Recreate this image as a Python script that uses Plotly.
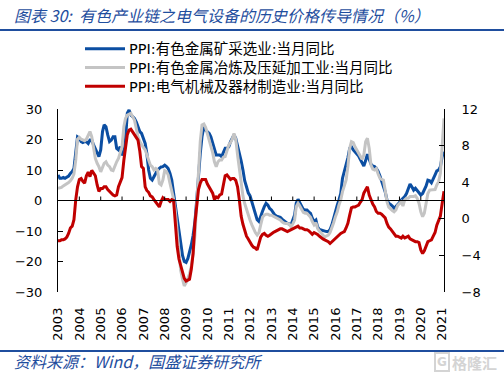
import pandas as pd
import plotly.graph_objects as go

# ---------------- data ----------------
months = pd.date_range("2003-01-01", periods=218, freq="MS")
years = list(range(2003, 2022))
year_labels = [str(y) for y in years]

name_mining = "PPI:有色金属矿采选业:当月同比"
name_smelting = "PPI:有色金属冶炼及压延加工业:当月同比"
name_electric = "PPI:电气机械及器材制造业:当月同比"

mining = [
    8.4, 7.3, 7.3, 7.6, 7.3, 7.6, 8.0, 8.9, 9.5, 10.5,
    15.5, 20.9, 20.5, 19.3, 19.0, 19.3, 19.3, 18.7, 19.8, 19.8,
    18.2, 17.1, 15.5, 14.4, 16.6, 22.6, 24.8, 24.2, 21.5, 19.3,
    19.8, 20.9, 20.9, 17.1, 16.6, 17.6, 14.9, 15.5, 19.8, 28.6,
    29.7, 28.0, 27.5, 26.9, 25.8, 24.2, 22.6, 22.0, 20.4, 18.7,
    15.5, 10.0, 7.3, 6.7, 7.8, 9.0, 10.0, 10.5, 11.0, 11.1,
    11.6, 11.1, 10.5, 8.9, 6.7, 2.5, -1.5, -6.5, -11.5, -15.5,
    -18.0, -20.0, -20.3, -19.0, -17.0, -14.5, -11.5, -7.0, 0.0, 9.0,
    15.5, 21.0, 24.2, 23.1, 22.6, 22.0, 20.9, 18.7, 16.6, 14.9,
    14.9, 14.9, 14.4, 15.5, 17.1, 17.1, 17.6, 19.3, 20.4, 21.5,
    20.4, 18.2, 16.0, 13.0, 10.0, 6.5, 4.5, 2.5, 1.5, -0.5,
    -2.0, -4.5, -6.3, -6.9, -5.0, -3.5, -2.0, -0.9, -1.5, -2.6,
    -3.1, -4.2, -4.8, -5.1, -5.3, -5.5, -6.1, -6.6, -7.2, -7.5,
    -7.7, -8.0, -6.4, -4.8, -0.9, 0.4, -0.7, -2.0, -2.9, -3.1,
    -3.1, -3.7, -4.2, -5.8, -6.9, -6.4, -8.6, -9.5, -9.7, -10.0,
    -10.2, -10.2, -10.2, -9.5, -8.0, -5.8, -3.1, -1.5, 0.2, 2.3,
    7.3, 9.5, 11.5, 14.0, 17.1, 17.6, 16.6, 16.0, 15.2, 14.6,
    13.5, 12.2, 11.3, 13.1, 15.2, 13.5, 11.9, 11.3, 11.1, 10.5,
    9.5, 8.0, 6.5, 5.1, 2.9, 0.2, -0.9, -1.3, -1.8, -2.6,
    -2.0, -1.5, -0.7, 0.2, 0.7, 1.3, 2.3, 4.0, 5.4, 4.5,
    3.4, 4.0, 3.2, 2.3, 1.8, 2.3, 3.4, 4.8, 6.7, 6.5,
    5.8, 6.9, 8.4, 9.7, 10.0, 11.1, 14.4, 16.0,
]

smelting = [
    4.0, 4.2, 4.3, 4.8, 5.1, 5.4, 5.9, 6.5, 7.3, 8.7,
    13.3, 20.1, 20.7, 20.1, 19.8, 19.6, 20.1, 21.5, 22.6, 20.9,
    17.1, 13.8, 12.2, 11.1, 9.4, 11.1, 12.2, 12.7, 11.6, 11.1,
    10.0, 9.8, 11.6, 12.7, 13.8, 15.5, 17.6, 24.2, 26.9, 28.0,
    28.4, 28.6, 27.5, 26.4, 23.7, 20.9, 19.3, 18.2, 17.4, 16.6,
    14.9, 13.3, 11.6, 11.1, 10.0, 10.5, 10.0, 5.6, 5.1, 6.7,
    9.8, 9.5, 8.4, 5.6, 3.2, 0.5, -3.5, -11.0, -17.5, -23.0,
    -25.8, -28.0, -27.0, -25.5, -24.0, -21.5, -17.5, -11.5, -1.5, 11.0,
    19.5, 24.8, 25.1, 24.0, 22.0, 20.1, 18.1, 15.7, 12.7, 11.1,
    12.7, 13.3, 13.3, 14.2, 14.4, 16.6, 18.2, 19.0, 20.1, 22.0,
    20.1, 15.0, 10.0, 5.0, 1.5, -1.0, -3.0, -5.0, -6.5, -8.0,
    -9.5, -10.5, -11.3, -10.5, -8.0, -5.5, -4.8, -4.5, -4.5, -4.8,
    -4.8, -5.1, -5.3, -5.6, -5.9, -6.4, -7.0, -7.4, -7.5, -7.5,
    -7.8, -8.6, -7.7, -6.4, -2.0, -0.9, -1.8, -3.1, -3.9, -4.2,
    -4.2, -4.8, -5.5, -6.9, -8.0, -7.3, -9.1, -10.0, -10.8, -11.3,
    -11.9, -11.6, -11.3, -10.5, -9.1, -7.3, -5.3, -3.7, -1.5, 0.2,
    2.9, 4.5, 6.7, 11.1, 17.1, 19.3, 19.0, 17.6, 16.6, 15.7,
    14.4, 13.5, 14.9, 19.3, 20.4, 17.1, 11.6, 10.3, 10.0, 10.5,
    8.7, 7.3, 6.9, 6.7, 3.4, -0.4, -2.2, -2.9, -3.3, -3.7,
    -3.1, -1.6, -0.9, -0.4, -1.8, 0.2, 0.7, 0.7, 1.3, 1.3,
    1.3, 1.6, 0.7, -0.9, -3.7, -5.3, -4.2, -0.9, 2.3, 3.4,
    3.4, 3.4, 3.6, 5.1, 6.2, 8.9, 19.8, 26.9,
]

electric = [
    -2.4, -2.4, -2.3, -2.3, -2.2, -2.0, -1.6, -1.0, -0.8, -0.1,
    2.1, 3.5, 4.3, 4.4, 4.1, 3.9, 4.7, 5.1, 4.6, 5.3,
    5.0, 4.7, 3.7, 3.0, 3.3, 3.3, 3.5, 3.5, 3.2, 3.0,
    2.7, 2.6, 2.5, 2.6, 3.5, 4.1, 4.5, 6.4, 8.1, 9.2,
    9.7, 9.8, 9.5, 9.2, 9.0, 8.6, 7.4, 5.7, 5.5, 3.5,
    3.1, 2.9, 2.5, 2.4, 2.1, 1.8, 1.5, 1.3, 1.9, 2.3,
    2.1, 2.1, 2.1, 1.9, 2.1, 2.0, -1.0, -3.0, -4.4, -5.2,
    -5.9, -6.5, -6.8, -6.7, -6.6, -5.5, -3.8, -0.5, 1.8, 3.2,
    3.9, 4.3, 4.3, 4.3, 3.8, 3.5, 3.2, 2.8, 2.1, 2.4,
    2.3, 2.6, 2.7, 3.7, 4.7, 4.8, 4.5, 4.3, 4.4, 4.4,
    4.2, 3.5, 2.1, 0.3, -0.6, -1.3, -1.9, -2.2, -2.6, -2.9,
    -3.1, -3.2, -3.4, -2.8, -2.0, -1.7, -1.6, -1.8, -1.9, -1.8,
    -1.6, -1.5, -1.4, -1.3, -1.2, -1.1, -1.1, -1.2, -1.3, -1.4,
    -1.3, -1.2, -1.1, -1.0, -0.9, -0.8, -1.0, -1.0, -1.1, -1.2,
    -1.2, -1.3, -1.5, -1.7, -1.5, -1.6, -1.7, -1.9, -2.1, -2.2,
    -2.3, -2.4, -2.5, -2.7, -2.5, -2.3, -2.1, -1.9, -1.8, -1.6,
    -1.5, -1.4, -1.0, -0.5, 0.4, 1.2, 1.3, 1.3, 1.4, 1.5,
    1.8, 2.1, 2.8, 3.2, 3.5, 2.6, 2.0, 1.6, 1.3, 0.8,
    0.6, 0.6, 0.5, 0.3, 0.1, -0.5, -0.9, -1.1, -1.4, -1.6,
    -1.9, -1.9, -2.0, -2.1, -1.9, -2.1, -2.0, -1.9, -2.2, -2.3,
    -2.4, -2.5, -2.5, -2.6, -3.4, -3.8, -3.5, -3.0, -2.5, -2.4,
    -2.3, -1.9, -1.5, -0.7, -0.2, 0.3, 1.7, 3.0,
]

left_ticks = [-30, -20, -10, 0, 10, 20, 30]
right_ticks = [-8, -4, 0, 4, 8, 12]

# ---------------- style ----------------
W, H = 504, 378
L, R, T, B = 58, 60, 109, 86
PW, PH = W - L - R, H - T - B
NUM_FONT = "DejaVu Sans"
CJK_FONT = "Noto Sans CJK SC"
TITLE_BLUE = "#1f4e9e"
COLORS = ["#0b4ea2", "#c4c4c4", "#c00000"]

def px_x(px):
    return (px - L) / PW

def px_y(py):
    return (H - B - py) / PH

fig = go.Figure()
fig.add_trace(go.Scatter(x=months, y=mining, name=name_mining, mode="lines",
                         line=dict(color=COLORS[0], width=3)))
fig.add_trace(go.Scatter(x=months, y=smelting, name=name_smelting, mode="lines",
                         line=dict(color=COLORS[1], width=3)))
fig.add_trace(go.Scatter(x=months, y=electric, name=name_electric, mode="lines",
                         line=dict(color=COLORS[2], width=3), yaxis="y2"))

year_dates = [pd.Timestamp(f"{y}-01-01") for y in years]

shapes = [
    dict(type="line", xref="paper", yref="y", x0=0, x1=1, y0=0, y1=0,
         line=dict(color="black", width=1), layer="above"),
    dict(type="line", xref="paper", yref="paper", x0=px_x(0), x1=px_x(W),
         y0=px_y(30), y1=px_y(30), line=dict(color=TITLE_BLUE, width=2)),
    dict(type="line", xref="paper", yref="paper", x0=px_x(0), x1=px_x(W),
         y0=px_y(351), y1=px_y(351), line=dict(color=TITLE_BLUE, width=2)),
]
for d in year_dates[1:-1]:
    shapes.append(dict(type="line", xref="x", yref="y", x0=d, x1=d,
                       ysizemode="pixel", yanchor=0, y0=0, y1=4,
                       line=dict(color="black", width=1), layer="above"))

annotations = [
    dict(text="<i>图表 30:  有色产业链之电气设备的历史价格传导情况（%）</i>",
         xref="paper", yref="paper", x=px_x(12), y=px_y(15),
         xanchor="left", yanchor="middle", showarrow=False,
         font=dict(family=CJK_FONT, size=16, color=TITLE_BLUE)),
    dict(text="<i>资料来源：Wind，国盛证券研究所</i>",
         xref="paper", yref="paper", x=px_x(12), y=px_y(361),
         xanchor="left", yanchor="middle", showarrow=False,
         font=dict(family=CJK_FONT, size=16, color=TITLE_BLUE)),
    dict(text="<b>G</b>", xref="paper", yref="paper", x=px_x(442), y=px_y(362),
         xanchor="center", yanchor="middle", showarrow=False,
         bordercolor="#d4d4d4", borderwidth=2, borderpad=1,
         font=dict(family=NUM_FONT, size=12, color="#d4d4d4")),
    dict(text="<b>格隆汇</b>", xref="paper", yref="paper", x=px_x(499), y=px_y(362),
         xanchor="right", yanchor="middle", showarrow=False,
         font=dict(family=CJK_FONT, size=15, color="#d4d4d4")),
]

# legend: swatches + one multi-line label block (tighter spacing than plotly's legend)
LEG_FONT = 14.5
LEG_STEP = LEG_FONT * 1.3
LEG_MID = 67.5
legend_names = [name_mining, name_smelting, name_electric]
for i, color in enumerate(COLORS):
    row = LEG_MID + (i - 1) * LEG_STEP
    shapes.append(dict(type="line", xref="paper", yref="paper",
                       x0=px_x(85), x1=px_x(125), y0=px_y(row), y1=px_y(row),
                       line=dict(color=color, width=3)))
annotations.append(dict(text="<br>".join(legend_names), xref="paper", yref="paper",
                        x=px_x(127), y=px_y(LEG_MID), xanchor="left", yanchor="middle",
                        align="left", showarrow=False,
                        font=dict(family="DejaVu Sans, " + CJK_FONT, size=LEG_FONT,
                                  color="black")))

fig.update_layout(
    width=W, height=H,
    margin=dict(l=L, r=R, t=T, b=B, autoexpand=False),
    paper_bgcolor="white", plot_bgcolor="white",
    showlegend=False,
    xaxis=dict(type="date", range=[months[0], months[-1]],
               tickvals=year_dates, ticktext=year_labels, tickangle=-90,
               showgrid=False, zeroline=False, showline=False, ticks="",
               ticklabelstandoff=12,
               tickfont=dict(family=NUM_FONT, size=13, color="black")),
    yaxis=dict(range=[-30, 30], tickvals=left_ticks, showgrid=False,
               zeroline=False, showline=True, linecolor="black", linewidth=1,
               ticks="inside", ticklen=5, tickcolor="black",
               ticklabelstandoff=12,
               tickfont=dict(family=NUM_FONT, size=13, color="black")),
    yaxis2=dict(range=[-8, 12], tickvals=right_ticks, overlaying="y", side="right",
                showgrid=False, zeroline=False, showline=True, linecolor="black",
                linewidth=1, ticks="inside", ticklen=5, tickcolor="black",
                ticklabelstandoff=14,
                tickfont=dict(family=NUM_FONT, size=13, color="black")),
    shapes=shapes,
    annotations=annotations,
)

fig.write_html("out.html",
               config={"displayModeBar": False},
               post_script="document.body.style.margin='0px';"
                           "document.body.style.overflow='hidden';")
